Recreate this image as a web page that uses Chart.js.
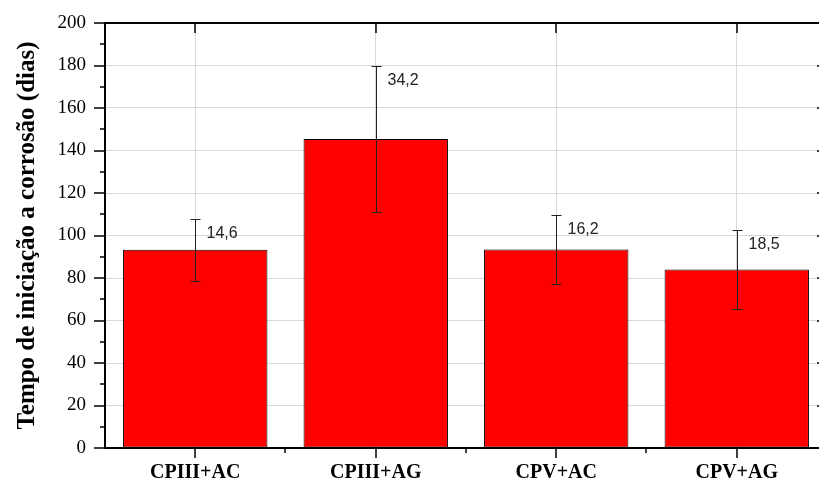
<!DOCTYPE html>
<html>
<head>
<meta charset="utf-8">
<script src="https://cdn.jsdelivr.net/npm/chart.js@4"></script>
<style>
    html, body { margin: 0; padding: 0; overflow: hidden; background: #fff; }
    #wrap { width: 830px; height: 481px; position: relative; }
</style>
</head>
<body>
<div id="wrap"><canvas id="myChart"></canvas></div>
<script>
"use strict";

let categories = ["CPIII+AC", "CPIII+AG", "CPV+AC", "CPV+AG"];
let meanDays = [93.3, 145.4, 93.4, 84.0];
let stdDev = [14.6, 34.2, 16.2, 18.5];
let stdLabels = ["14,6", "34,2", "16,2", "18,5"];
let yTicks = [0, 20, 40, 60, 80, 100, 120, 140, 160, 180, 200];

// error bars, labels and the axis frame with its tick marks
let framePlugin = {
    id: "frame",
    afterDatasetsDraw(chart) {
        let ctx = chart.ctx;
        let y = chart.scales.y;
        let meta = chart.getDatasetMeta(0);
        ctx.save();
        ctx.strokeStyle = "#222";
        ctx.lineWidth = 1;
        ctx.fillStyle = "#222";
        ctx.font = "16px 'Liberation Sans'";
        ctx.textBaseline = "middle";
        meta.data.forEach((bar, i) => {
            let top = Math.round(y.getPixelForValue(meanDays[i] + stdDev[i])) + 0.5;
            let bottom = Math.round(y.getPixelForValue(meanDays[i] - stdDev[i])) + 0.5;
            let x = Math.round(bar.x) + 0.5;
            ctx.beginPath();
            ctx.moveTo(x, top);
            ctx.lineTo(x, bottom);
            ctx.moveTo(x - 5, top);
            ctx.lineTo(x + 5, top);
            ctx.moveTo(x - 5, bottom);
            ctx.lineTo(x + 5, bottom);
            ctx.stroke();
            ctx.fillText(stdLabels[i], x + 11, top + 14);
        });
        ctx.restore();
    },
    afterDraw(chart) {
        let ctx = chart.ctx;
        let a = chart.chartArea;
        let x = chart.scales.x;
        let y = chart.scales.y;
        ctx.save();
        ctx.strokeStyle = "#000";
        ctx.lineWidth = 2;
        ctx.strokeRect(a.left, a.top, a.right - a.left, a.bottom - a.top);

        ctx.lineWidth = 1.5;
        ctx.beginPath();
        // y axis: major ticks out on the left, inward on the right
        for (let v = 0; v <= 200; v += 10) {
            let py = Math.round(y.getPixelForValue(v));
            if (v % 20 === 0) {
                ctx.moveTo(a.left, py);
                ctx.lineTo(a.left - 11, py);
                ctx.moveTo(a.right, py);
                ctx.lineTo(a.right - 10, py);
            } else {
                ctx.moveTo(a.left, py);
                ctx.lineTo(a.left - 5, py);
            }
        }
        // x axis: major ticks at the centres, minor at the boundaries
        let half = (x.getPixelForValue(1) - x.getPixelForValue(0)) / 2;
        for (let i = 0; i < categories.length; i++) {
            let px = Math.round(x.getPixelForValue(i));
            ctx.moveTo(px, a.bottom);
            ctx.lineTo(px, a.bottom + 10);
            ctx.moveTo(px, a.top);
            ctx.lineTo(px, a.top + 10);
            let bx = Math.round(px + half);
            if (i < categories.length - 1) {
                ctx.moveTo(bx, a.bottom);
                ctx.lineTo(bx, a.bottom + 5);
            }
        }
        ctx.stroke();
        ctx.restore();
    }
};

const ctx = document.getElementById("myChart");

new Chart(ctx, {
    type: "bar",
    data: {
        labels: categories,
        datasets: [{
            data: meanDays,
            backgroundColor: "#ff0000",
            borderColor: "#000",
            borderWidth: 1,
            borderSkipped: false,
            barPercentage: 1,
            categoryPercentage: 0.8
        }]
    },
    options: {
        responsive: true,
        maintainAspectRatio: false,
        animation: false,
        layout: { padding: { top: 23, right: 3, left: 0, bottom: 0 } },
        plugins: {
            legend: { display: false },
            tooltip: { enabled: false }
        },
        scales: {
            x: {
                grid: { offset: false, color: "#d9d9d9", drawTicks: false },
                border: { display: false },
                ticks: {
                    color: "#000",
                    padding: 13,
                    font: { family: "'Liberation Serif'", size: 20, weight: "bold" }
                },
                afterFit(scale) { scale.height = 33; }
            },
            y: {
                min: 0,
                max: 200,
                grid: { color: "#d9d9d9", drawTicks: false },
                border: { display: false },
                afterBuildTicks(scale) {
                    scale.ticks = yTicks.map(v => ({ value: v }));
                },
                ticks: {
                    color: "#000",
                    padding: 19,
                    font: { family: "'Liberation Serif'", size: 19 }
                },
                title: {
                    display: true,
                    text: "Tempo de iniciação a corrosão (dias)",
                    color: "#000",
                    padding: { top: 13, bottom: 0 },
                    font: { family: "'Liberation Serif'", size: 25, weight: "bold" }
                },
                afterFit(scale) {
                    scale.width = 105;
                    scale.paddingTop = 0;
                    scale.paddingBottom = 0;
                }
            }
        }
    },
    plugins: [framePlugin]
});
</script>
</body>
</html>
